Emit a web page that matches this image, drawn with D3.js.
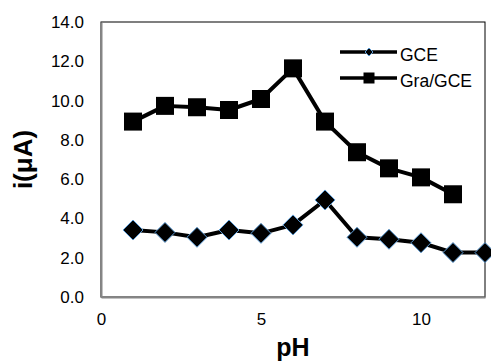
<!DOCTYPE html>
<html lang="en">
<head>
<meta charset="UTF-8">
<script src="https://cdnjs.cloudflare.com/ajax/libs/d3/7.8.4/d3.min.js"></script>
<title>pH</title>
<style>
  body { margin: 0; background: #fff; }
  text { font-family: "Liberation Sans", Arial, sans-serif; }
</style>
</head>
<body>
<script>
// data
const phGCE = [1, 2, 3, 4, 5, 6, 7, 8, 9, 10, 11, 12]
const iGCE = [3.41, 3.29, 3.04, 3.41, 3.24, 3.67, 4.94, 3.04, 2.94, 2.76, 2.26, 2.26]
const phGra = [1, 2, 3, 4, 5, 6, 7, 8, 9, 10, 11]
const iGra = [8.93, 9.73, 9.66, 9.52, 10.08, 11.64, 8.93, 7.37, 6.55, 6.09, 5.23]
const yTicks = [0, 2, 4, 6, 8, 10, 12, 14]
const xTicks = [0, 5, 10]
const seriesNames = ["GCE", "Gra/GCE"]

const W = 491, H = 363
const plotL = 101, plotR = 485, plotT = 22, plotB = 297

let svg = d3.select("body").append("svg")
  .attr("width", W)
  .attr("height", H)

let x = d3.scaleLinear().domain([0, 12]).range([plotL, plotR])
let y = d3.scaleLinear().domain([0, 14]).range([plotB, plotT])

// plot frame: top/right black thin, left/bottom gray axes
svg.append("rect")
  .attr("x", plotL).attr("y", plotT)
  .attr("width", plotR - plotL).attr("height", plotB - plotT)
  .attr("fill", "none").attr("stroke", "#000").attr("stroke-width", 1)

let yAxis = svg.append("g")
  .attr("transform", `translate(${plotL},0)`)
  .call(d3.axisLeft(y).tickValues(yTicks).tickFormat(d3.format(".1f")).tickSize(0).tickPadding(17))
yAxis.select(".domain").attr("stroke", "#868686").attr("stroke-width", 2)
yAxis.selectAll("text").attr("font-size", 17).attr("fill", "#000")
  .style("font-family", "Liberation Sans, Arial, sans-serif")

let xAxis = svg.append("g")
  .attr("transform", `translate(0,${plotB})`)
  .call(d3.axisBottom(x).tickValues(xTicks).tickSize(0).tickPadding(16))
xAxis.select(".domain").attr("stroke", "#868686").attr("stroke-width", 2)
xAxis.selectAll("text").attr("font-size", 17).attr("fill", "#000")
  .style("font-family", "Liberation Sans, Arial, sans-serif")

// axis titles
svg.append("text")
  .attr("x", (plotL + plotR) / 2).attr("y", 356)
  .attr("text-anchor", "middle")
  .attr("font-size", 25).attr("font-weight", "bold")
  .text("pH")

svg.append("text")
  .attr("transform", `translate(32,${(plotT + plotB) / 2}) rotate(-90)`)
  .attr("text-anchor", "middle")
  .attr("font-size", 26).attr("font-weight", "bold")
  .text("i(\u03bcA)")

let line = d3.line().x(d => x(d[0])).y(d => y(d[1]))

let graData = phGra.map((p, i) => [p, iGra[i]])
let gceData = phGCE.map((p, i) => [p, iGCE[i]])

let diamond = (s) => `M0,${-s}L${s},0L0,${s}L${-s},0Z`

// Gra/GCE series
svg.append("path")
  .datum(graData)
  .attr("d", line)
  .attr("fill", "none").attr("stroke", "#000").attr("stroke-width", 4)
  .attr("stroke-linejoin", "round")
svg.selectAll("rect.gra").data(graData).enter().append("rect")
  .attr("class", "gra")
  .attr("x", d => x(d[0]) - 9).attr("y", d => y(d[1]) - 9)
  .attr("width", 18).attr("height", 18)
  .attr("fill", "#000")

// GCE series
svg.append("path")
  .datum(gceData)
  .attr("d", line)
  .attr("fill", "none").attr("stroke", "#000").attr("stroke-width", 4)
  .attr("stroke-linejoin", "round")
svg.selectAll("path.gce").data(gceData).enter().append("path")
  .attr("class", "gce")
  .attr("transform", d => `translate(${x(d[0])},${y(d[1])})`)
  .attr("d", diamond(10))
  .attr("fill", "#000").attr("stroke", "#5b9bd5").attr("stroke-width", 1)

// legend
let legend = svg.append("g")
seriesNames.forEach((name, i) => {
  let ly = 52 + i * 26
  legend.append("line")
    .attr("x1", 340).attr("x2", 397).attr("y1", ly).attr("y2", ly)
    .attr("stroke", "#000").attr("stroke-width", 3.5)
  if (i === 0) {
    legend.append("path")
      .attr("transform", `translate(369,${ly})`)
      .attr("d", diamond(4))
      .attr("fill", "#000").attr("stroke", "#5b9bd5").attr("stroke-width", 1)
  } else {
    legend.append("rect")
      .attr("x", 363.5).attr("y", ly - 5.5).attr("width", 11).attr("height", 11)
      .attr("fill", "#000")
  }
  legend.append("text")
    .attr("x", 400).attr("y", ly + 9)
    .attr("font-size", 17.5)
    .text(name)
})
</script>
</body>
</html>
